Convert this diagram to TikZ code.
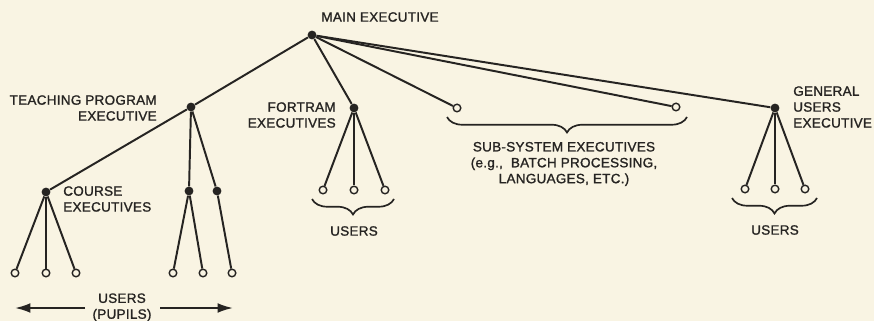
\documentclass[tikz,border=0pt]{standalone}
\usepackage{fontspec}
\setmainfont{Liberation Sans}
\newfontfamily\lblfont{Liberation Sans}[FakeBold=1.3,LetterSpace=2]
\usetikzlibrary{decorations.pathreplacing,arrows.meta}
\definecolor{paper}{RGB}{249,244,227}
\definecolor{ink}{RGB}{38,36,34}
\begin{document}
\begin{tikzpicture}[x=0.025cm,y=-0.025cm,
  ink line/.style={draw=ink,line width=1.4pt},
  dot/.style={circle,fill=ink,inner sep=0pt,minimum size=6.3pt},
  leaf/.style={circle,draw=ink,fill=paper,line width=1pt,inner sep=0pt,minimum size=5.4pt},
  lbl/.style={text=ink,font=\lblfont\fontsize{9.6}{11.3}\selectfont,inner sep=0pt},
  brace/.style={draw=ink,line width=1.2pt,decorate,decoration={brace,mirror,amplitude=11pt}},
  arr/.style={draw=ink,line width=1.4pt,-{Latex[length=11pt,width=7pt]}}]
\fill[paper] (0,0) rectangle (874,321);
\useasboundingbox (0,0) rectangle (874,321);
% executive dots
\node[dot] (M) at (312,35) {};
\node[dot] (T) at (191,107) {};
\node[dot] (F) at (354,108) {};
\node[dot] (G) at (775,108) {};
\node[dot] (C) at (46,192) {};
\node[dot] (T1) at (189,191) {};
\node[dot] (T2) at (217,191) {};
% leaves
\node[leaf] (S1) at (457,108) {};
\node[leaf] (S2) at (676,107) {};
\node[leaf] (F1) at (323,190) {};
\node[leaf] (F2) at (354,190) {};
\node[leaf] (F3) at (385,190) {};
\node[leaf] (G1) at (745,189) {};
\node[leaf] (G2) at (775,189) {};
\node[leaf] (G3) at (805,189) {};
\node[leaf] (C1) at (15,273) {};
\node[leaf] (C2) at (46,273) {};
\node[leaf] (C3) at (76,273) {};
\node[leaf] (P1) at (173,273) {};
\node[leaf] (P2) at (203,273) {};
\node[leaf] (P3) at (232,273) {};
% connectors
\draw[ink line] (M) -- (T);
\draw[ink line] (M) -- (F);
\draw[ink line] (M) -- (S1);
\draw[ink line] (M) -- (S2);
\draw[ink line] (M) -- (G);
\draw[ink line] (T) -- (C);
\draw[ink line] (T) -- (T1);
\draw[ink line] (T) -- (T2);
\draw[ink line] (F) -- (F1);
\draw[ink line] (F) -- (F2);
\draw[ink line] (F) -- (F3);
\draw[ink line] (G) -- (G1);
\draw[ink line] (G) -- (G2);
\draw[ink line] (G) -- (G3);
\draw[ink line] (C) -- (C1);
\draw[ink line] (C) -- (C2);
\draw[ink line] (C) -- (C3);
\draw[ink line] (T1) -- (P1);
\draw[ink line] (T1) -- (P2);
\draw[ink line] (T2) -- (P3);
% braces
\coordinate (sbl) at (447,117);
\coordinate (sbr) at (687,117);
\coordinate (fbl) at (312,199);
\coordinate (fbr) at (394,199);
\coordinate (gbl) at (732,198);
\coordinate (gbr) at (817,198);
\draw[brace] (sbl) -- (sbr);
\draw[brace] (fbl) -- (fbr);
\draw[brace] (gbl) -- (gbr);
% labels
\node[lbl] (lM) at (380,17) {MAIN EXECUTIVE};
\node[lbl,align=right,anchor=east] (lT) at (157,108) {TEACHING PROGRAM\\EXECUTIVE};
\node[lbl,align=right,anchor=east] (lF) at (336,115) {FORTRAM\\EXECUTIVES};
\node[lbl,align=left,anchor=west] (lC) at (63,199) {COURSE\\EXECUTIVES};
\node[lbl,align=left,anchor=west] (lG) at (793,107) {GENERAL\\USERS\\EXECUTIVE};
\node[lbl,align=center] (lS) at (564,164) {SUB-SYSTEM EXECUTIVES\\(e.g.,\ \ BATCH PROCESSING,\\LANGUAGES, ETC.)};
\node[lbl] (uF) at (354,231) {USERS};
\node[lbl] (uG) at (775,230) {USERS};
\node[lbl,align=center] (uP) at (122,307.5) {USERS\\(PUPILS)};
\coordinate (la0) at (85,308);
\coordinate (la) at (15,308);
\coordinate (ra0) at (160,308);
\coordinate (ra) at (233,308);
\draw[arr] (la0) -- (la);
\draw[arr] (ra0) -- (ra);
\end{tikzpicture}
\end{document}
